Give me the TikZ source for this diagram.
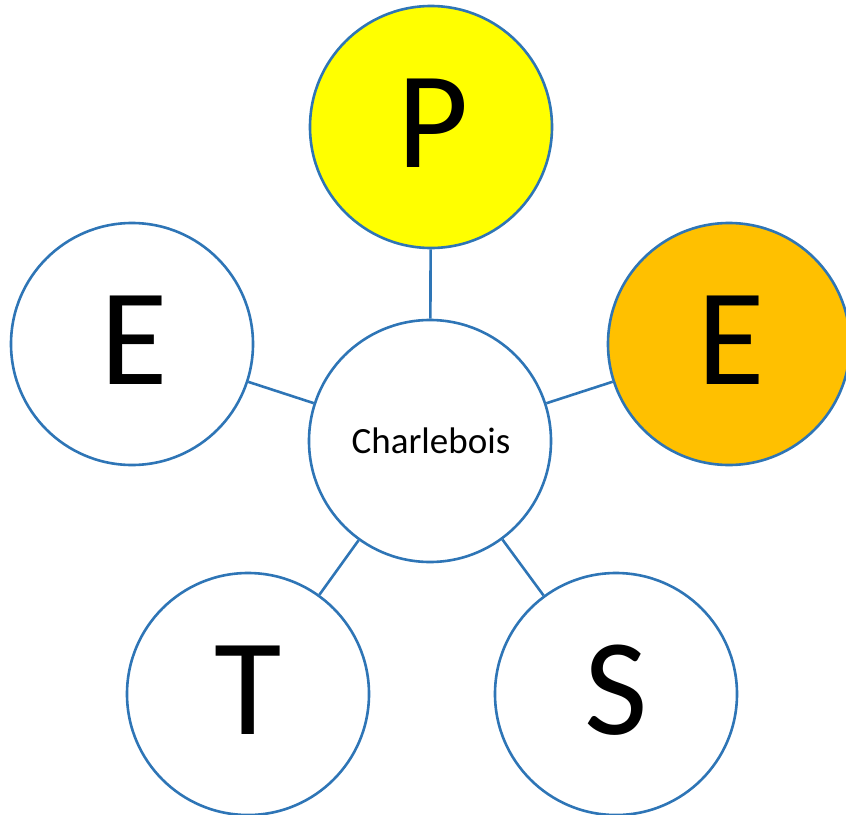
\documentclass[tikz,border=0pt]{standalone}
\usepackage{fontspec}
\setmainfont{Carlito}
\definecolor{ringblue}{HTML}{2E75B6}
\definecolor{petyellow}{HTML}{FFFF00}
\definecolor{petorange}{HTML}{FFC000}
\tikzset{
  ring/.style={circle, draw=ringblue, line width=2.6pt, minimum size=242pt, inner sep=0pt, fill=white},
  bigletter/.style={anchor=base, inner sep=0pt, font=\fontsize{138}{140}\selectfont},
  link/.style={draw=ringblue, line width=2.6pt}
}
\begin{document}
\begin{tikzpicture}[x=1pt,y=1pt]
\useasboundingbox (0,0) rectangle (846,-814);
\node[ring] (c) at (430,-441) {};
\node[ring, fill=petyellow] (p) at (431,-127) {};
\node[ring] (el) at (132,-344) {};
\node[ring, fill=petorange] (er) at (729,-344) {};
\node[ring] (t) at (248,-694) {};
\node[ring] (s) at (616,-694) {};
\draw[link] (c) -- (p);
\draw[link] (c) -- (el);
\draw[link] (c) -- (er);
\draw[link] (c) -- (t);
\draw[link] (c) -- (s);
\node[anchor=base, inner sep=0pt, font=\fontsize{37}{40}\selectfont] (ctext) at (431,-453) {Charlebois};
\node[bigletter] (ptext) at (433,-167) {P};
\node[bigletter] (eltext) at (134,-384) {E};
\node[bigletter] (ertext) at (731,-384) {E};
\node[bigletter] (ttext) at (248,-734) {T};
\node[bigletter] (stext) at (616,-734) {S};
\end{tikzpicture}
\end{document}
